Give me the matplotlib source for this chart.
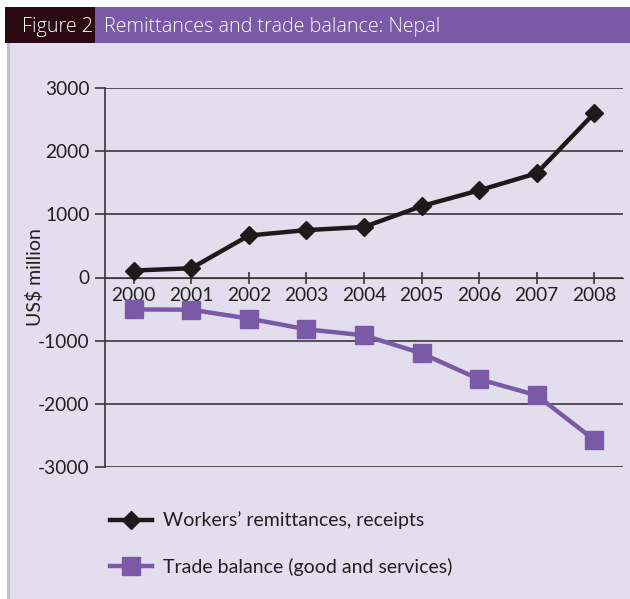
import matplotlib
matplotlib.use("Agg")
import matplotlib.pyplot as plt
from matplotlib.patches import Rectangle

years = ["2000", "2001", "2002", "2003", "2004", "2005", "2006", "2007", "2008"]
remittances = [110, 147, 665, 750, 800, 1130, 1380, 1650, 2600]
trade_balance = [-505, -510, -650, -820, -915, -1200, -1610, -1865, -2570]
yticks = [-3000, -2000, -1000, 0, 1000, 2000, 3000]

PURPLE = "#7a5aa6"
DARK = "#2b0a14"
LAV = "#e3deed"
W, H = 630, 599

plt.rcParams['font.family'] = ['Lato', 'DejaVu Sans']
fig = plt.figure(figsize=(W / 100, H / 100), dpi=100)
fig.patch.set_facecolor("white")

bg = fig.add_axes([0, 0, 1, 1], zorder=0)
bg.set_xlim(0, W)
bg.set_ylim(H, 0)
bg.axis("off")
bg.add_patch(Rectangle((7, 43), W - 7, H - 43, facecolor=LAV, edgecolor="none"))
bg.add_patch(Rectangle((7, 43), 2.5, H - 43, facecolor="#c5badb", edgecolor="none"))
bg.add_patch(Rectangle((5, 7), 90, 36, facecolor=DARK, edgecolor="none"))
bg.add_patch(Rectangle((95, 7), W - 95, 36, facecolor=PURPLE, edgecolor="none"))
bg.text(22, 27, "Figure 2", color="white", fontsize=14.2, va="center", ha="left",
        family=["Open Sans", "DejaVu Sans"], fontweight="light")
bg.text(104, 27, "Remittances and trade balance: Nepal", color="white", fontsize=14.2,
        va="center", ha="left", family=["Open Sans", "DejaVu Sans"], fontweight="light")

left, right, top, bottom = 105, 623, 88, 467
ax = fig.add_axes([left / W, 1 - bottom / H, (right - left) / W, (bottom - top) / H], zorder=1)
ax.set_facecolor("none")
x = list(range(len(years)))
ax.plot(x, remittances, color="#1e1a1b", lw=3.2, marker="D", ms=9,
        label="Workers\u2019 remittances, receipts", zorder=4)
ax.plot(x, trade_balance, color=PURPLE, lw=3.2, marker="s", ms=12.5,
        label="Trade balance (good and services)", zorder=3)
ax.set_xlim(-0.5, len(years) - 0.5)
ax.set_ylim(-3000, 3000)
ax.set_yticks(yticks)
ax.set_yticklabels([str(v) for v in yticks])
ax.set_xticks(x)
ax.set_xticklabels(years)
for v in yticks:
    ax.axhline(v, color="#3a3536", lw=1.2, zorder=1)
for s in ["top", "right"]:
    ax.spines[s].set_visible(False)
ax.spines["bottom"].set_position(("data", 0))
ax.spines["bottom"].set_color("#3a3536")
ax.spines["left"].set_color("#3a3536")
ax.spines["left"].set_linewidth(1.2)
ax.tick_params(axis="y", direction="out", length=7, width=1.2, color="#3a3536",
               labelsize=13.8, labelcolor="#231f20", pad=4)
ax.tick_params(axis="x", direction="inout", length=8, width=1.2, color="#3a3536",
               labelsize=13.8, labelcolor="#231f20", pad=2.5)
ax.set_ylabel("US$ million", fontsize=14, color="#231f20", labelpad=-4)

leg = fig.legend(loc="upper left", bbox_to_anchor=(92 / W, 1 - 494 / H), frameon=False,
                 fontsize=14, handlelength=2.2, labelspacing=1.45, handletextpad=0.55,
                 markerscale=1.0, labelcolor="#231f20")

fig.savefig("out.png", dpi=100, facecolor=fig.get_facecolor())
